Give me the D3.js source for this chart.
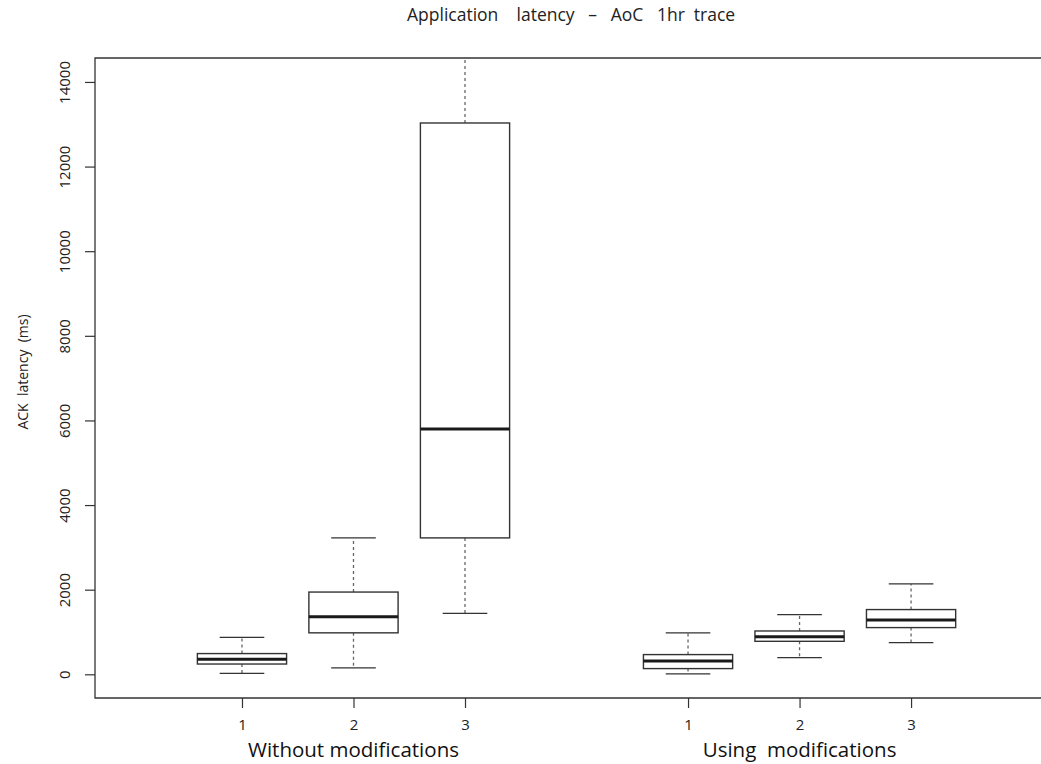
<!DOCTYPE html>
<html>
<head>
<meta charset="utf-8">
<script src="https://cdn.jsdelivr.net/npm/d3@7"></script>
<style>
  body { margin: 0; background: #fff; }
  svg { display: block; font-family: "Open Sans", "Noto Sans", sans-serif; }
</style>
</head>
<body>
<svg id="chart" width="1041" height="764"></svg>
<script>
// data
const groups = ["Without modifications", "Using  modifications"];
const groupCenters = [2, 6];
const positions = [1, 2, 3, 5, 6, 7];
const tickLabels = ["1", "2", "3", "1", "2", "3"];
const lowWhisker = [20, 150, 1440, 10, 395, 750];
const q1 = [243, 980, 3224, 135, 780, 1104];
const median = [355, 1360, 5800, 315, 889, 1284];
const q3 = [490, 1944, 13030, 466, 1024, 1530];
const highWhisker = [875, 3224, 16000, 977, 1412, 2136];
const yTicks = [0, 2000, 4000, 6000, 8000, 10000, 12000, 14000];

const boxes = positions.map((p, i) => ({
  pos: p, lo: lowWhisker[i], q1: q1[i], med: median[i], q3: q3[i], hi: highWhisker[i]
}));

const svg = d3.select("#chart");
const plotLeft = 95, plotRight = 1046, plotTop = 58, plotBottom = 698;
const ink = "#333";

const x = d3.scaleLinear().domain([-0.318, 8.21]).range([plotLeft, plotRight]);
const y = d3.scaleLinear().domain([-560, 14566]).range([plotBottom, plotTop]);

svg.append("defs").append("clipPath").attr("id", "plotclip")
  .append("rect").attr("x", plotLeft).attr("y", plotTop)
  .attr("width", plotRight - plotLeft).attr("height", plotBottom - plotTop);

// title
svg.append("text")
  .attr("x", 407).attr("y", 21)
  .style("font-size", "17.5px")
  .style("white-space", "pre")
  .attr("fill", "#222")
  .text("Application    latency   \u2013   AoC   1hr  trace");

// plot frame (left, top, bottom)
svg.append("path")
  .attr("d", `M${plotRight},${plotTop}H${plotLeft}V${plotBottom}H${plotRight}`)
  .attr("fill", "none").attr("stroke", ink).attr("stroke-width", 1.3);

// y axis
const yAxis = svg.append("g").attr("transform", `translate(${plotLeft},0)`)
  .call(d3.axisLeft(y).tickValues(yTicks).tickSize(10).tickFormat(d3.format("d")));
yAxis.select(".domain").remove();
yAxis.attr("font-family", null).attr("font-size", null);
yAxis.selectAll(".tick line").attr("stroke", ink).attr("stroke-width", 1.2);
yAxis.selectAll(".tick text")
  .attr("transform", "rotate(-90)")
  .attr("x", 0).attr("y", -30)
  .attr("dy", "0.35em")
  .attr("text-anchor", "middle")
  .style("font-size", "15px").attr("fill", "#222");

svg.append("text")
  .attr("transform", `translate(23,372) rotate(-90)`)
  .attr("text-anchor", "middle")
  .attr("dy", "0.35em")
  .style("font-size", "14px")
  .style("white-space", "pre")
  .attr("fill", "#222")
  .text("ACK  latency  (ms)");

// x axis
const xAxis = svg.append("g").attr("transform", `translate(0,${plotBottom})`)
  .call(d3.axisBottom(x).tickValues(positions).tickSize(10).tickPadding(11)
    .tickFormat((d, i) => tickLabels[i]));
xAxis.select(".domain").remove();
xAxis.attr("font-family", null).attr("font-size", null);
xAxis.selectAll(".tick line").attr("stroke", ink).attr("stroke-width", 1.2);
xAxis.selectAll(".tick text").style("font-size", "15px").attr("fill", "#222");

svg.selectAll(".group-label")
  .data(groups)
  .join("text")
  .attr("class", "group-label")
  .attr("x", (d, i) => x(groupCenters[i]))
  .attr("y", 757)
  .attr("text-anchor", "middle")
  .style("font-size", "20.5px")
  .style("white-space", "pre")
  .attr("fill", "#111")
  .text(d => d);

// boxes
const halfBox = 0.4, halfCap = 0.2;
const plot = svg.append("g").attr("clip-path", "url(#plotclip)");
const g = plot.selectAll(".box").data(boxes).join("g").attr("class", "box");

// whiskers
g.append("line")
  .attr("x1", d => x(d.pos)).attr("x2", d => x(d.pos))
  .attr("y1", d => y(d.q3)).attr("y2", d => y(d.hi))
  .attr("stroke", "#666").attr("stroke-width", 1.3).attr("stroke-dasharray", "3,3");
g.append("line")
  .attr("x1", d => x(d.pos)).attr("x2", d => x(d.pos))
  .attr("y1", d => y(d.q1)).attr("y2", d => y(d.lo))
  .attr("stroke", "#666").attr("stroke-width", 1.3).attr("stroke-dasharray", "3,3");
// caps
["lo", "hi"].forEach(k => {
  g.append("line")
    .attr("x1", d => x(d.pos - halfCap)).attr("x2", d => x(d.pos + halfCap))
    .attr("y1", d => y(d[k])).attr("y2", d => y(d[k]))
    .attr("stroke", ink).attr("stroke-width", 1.3);
});
// box
g.append("rect")
  .attr("x", d => x(d.pos - halfBox))
  .attr("width", d => x(d.pos + halfBox) - x(d.pos - halfBox))
  .attr("y", d => y(d.q3))
  .attr("height", d => y(d.q1) - y(d.q3))
  .attr("fill", "#fff").attr("stroke", ink).attr("stroke-width", 1.4);
// median
g.append("line")
  .attr("x1", d => x(d.pos - halfBox)).attr("x2", d => x(d.pos + halfBox))
  .attr("y1", d => y(d.med)).attr("y2", d => y(d.med))
  .attr("stroke", "#1a1a1a").attr("stroke-width", 3);
</script>
</body>
</html>
